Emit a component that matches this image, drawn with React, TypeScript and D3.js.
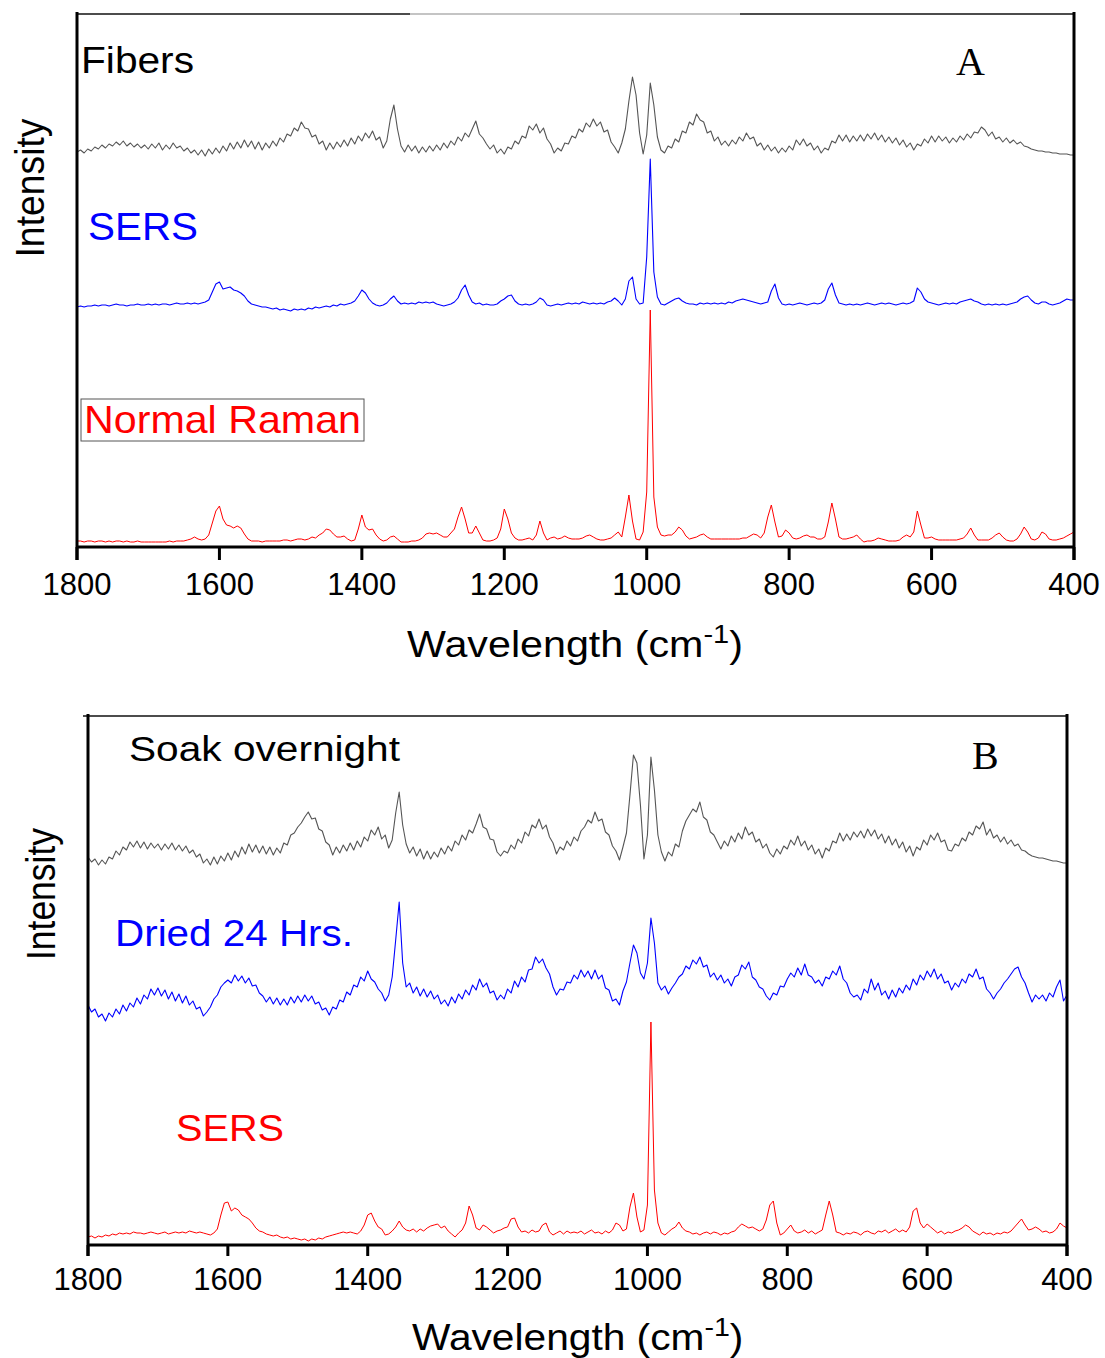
import React from "react";
import * as d3 from "d3";

// ---------------- DATA ----------------
// Raman shift grid: 1800 -> 400 cm-1 in 5 cm-1 steps (281 samples per spectrum)
const SHIFT_START = 1800;
const SHIFT_STEP = 5;
const xTickValues = [1800, 1600, 1400, 1200, 1000, 800, 600, 400];

// Panel A (offset intensities, arbitrary units)
const fibersA = [
  395,397,394,398,396,400,398,402,399,403,401,405,402,406,401,404,400,403,399,402,
  398,403,399,404,397,402,398,404,399,401,396,399,394,397,392,397,391,398,393,399,
  394,401,396,404,398,405,399,407,400,406,398,405,397,404,399,406,401,409,405,413,
  411,419,416,425,419,418,410,412,403,406,397,404,398,405,400,407,401,409,403,411,
  406,414,409,416,407,410,399,406,428,442,418,401,395,402,396,401,394,400,395,401,
  396,402,397,404,399,406,402,410,406,414,410,418,426,413,409,403,398,402,394,398,
  393,400,398,406,403,411,409,421,417,423,414,419,408,403,394,399,396,404,403,411,
  409,418,415,424,420,428,421,425,415,417,405,400,394,404,418,446,470,452,414,393,
  412,464,442,410,397,394,401,399,408,405,416,414,425,422,433,427,425,414,416,406,
  410,402,406,401,407,403,410,406,414,408,410,401,404,397,402,396,400,394,399,395,
  401,397,407,402,408,401,404,397,401,394,399,397,406,404,412,406,412,405,411,406,
  412,406,413,408,414,407,412,405,410,404,409,402,407,400,404,397,403,401,408,404,
  411,405,411,406,410,404,409,405,411,407,413,409,415,414,420,417,411,415,408,410,
  405,409,404,407,403,405,401,400,398,397,396,396,395,395,394,394,393,393,393,392,
  392,
];
const sersA = [
  240,241,240,241,241,242,241,242,242,241,242,243,242,242,241,242,242,243,242,242,
  243,242,243,242,243,243,242,243,244,243,243,244,243,244,243,244,245,247,255,263,
  265,258,259,260,257,256,254,251,246,243,242,241,240,240,239,238,239,237,238,237,
  236,238,237,238,237,239,238,240,239,240,241,240,242,241,243,242,243,244,246,251,
  257,254,248,244,242,241,242,244,248,251,246,243,244,243,244,243,245,244,245,244,
  245,243,242,241,242,243,245,249,257,262,252,245,243,244,242,243,242,242,243,246,
  248,251,252,246,243,242,243,242,243,245,249,247,242,241,242,243,242,243,244,243,
  244,243,245,244,243,244,243,244,243,245,246,249,246,242,248,266,270,248,243,244,
  290,388,275,250,243,242,244,246,248,249,246,244,243,243,242,244,243,244,243,244,
  243,244,243,245,244,246,247,248,247,246,245,244,243,244,245,256,263,249,243,242,
  243,242,243,244,243,242,243,244,243,244,247,258,264,252,244,243,242,243,242,243,
  242,243,244,243,242,243,244,243,244,243,242,243,244,243,244,246,259,255,248,245,
  244,243,242,243,244,243,244,243,245,246,247,248,246,245,243,242,243,242,243,242,
  243,242,243,244,245,248,250,251,247,244,243,245,245,243,242,243,244,246,248,247,
  247,
];
const normalRamanA = [
  6,6,5,6,6,5,6,6,5,6,5,6,6,5,6,5,5,6,5,5,
  5,5,5,5,5,5,6,5,6,6,6,7,8,10,8,7,8,12,24,36,
  41,28,22,21,19,21,19,13,8,6,6,6,5,6,6,6,6,6,7,7,
  6,7,8,8,7,8,10,9,12,14,18,17,13,10,10,11,8,6,7,18,
  32,20,17,18,12,8,6,7,10,11,8,5,5,5,6,6,7,9,13,14,
  13,14,12,10,10,14,18,30,40,28,14,14,21,14,7,6,6,7,9,18,
  38,28,14,9,7,7,8,9,7,12,26,14,7,9,10,8,9,11,9,8,
  8,8,9,11,12,10,8,7,7,8,9,12,15,10,30,52,26,8,7,15,
  55,237,50,20,12,11,12,12,15,20,17,11,8,9,10,12,13,10,8,8,
  8,8,8,8,8,8,8,9,9,11,13,12,9,14,30,42,25,10,11,17,
  14,9,8,9,11,12,10,10,8,8,10,25,44,28,10,8,8,9,10,12,
  8,5,6,6,7,9,8,7,6,6,6,7,10,12,10,15,36,22,9,9,
  10,8,7,7,7,7,7,7,8,9,13,19,12,7,7,7,7,9,12,14,
  10,7,6,6,8,13,20,15,8,7,9,15,13,8,7,7,8,9,11,13,
  15,
];

// Panel B
const soakB = [
  388,383,386,380,385,381,388,386,394,390,398,395,403,398,404,397,403,396,402,397,
  401,395,401,396,402,395,400,394,399,392,395,388,391,382,386,380,388,381,389,384,
  392,385,394,388,398,391,401,393,400,392,399,391,398,390,397,392,402,400,410,412,
  418,422,428,433,426,427,416,414,403,400,390,398,392,400,394,402,395,404,398,408,
  404,415,410,418,406,410,397,405,432,453,420,401,392,398,389,396,386,394,386,393,
  388,397,391,399,394,404,400,410,405,415,412,421,431,418,416,406,405,393,389,394,
  392,400,396,406,402,413,409,420,417,426,416,420,408,402,391,398,395,404,399,408,
  404,414,418,425,422,433,424,426,413,410,399,394,385,398,412,450,490,482,440,386,
  410,488,455,410,393,384,393,389,401,398,414,424,430,436,433,443,428,425,413,410,
  403,396,404,399,409,403,412,406,418,410,413,403,406,397,401,392,388,396,391,399,
  396,405,400,409,399,404,395,400,391,396,387,397,394,404,402,412,404,411,405,413,
  408,414,407,416,409,415,406,411,402,409,400,406,397,403,393,399,389,398,395,405,
  400,410,405,412,403,405,395,394,401,399,407,404,413,410,419,416,423,410,416,407,
  410,403,408,401,405,399,401,395,394,391,389,388,387,387,386,385,384,384,383,382,
  382,
];
const dried24B = [
  240,233,236,228,231,224,232,228,236,231,240,234,242,238,247,241,250,246,256,250,
  257,249,255,246,253,244,251,242,249,240,244,236,238,229,233,238,246,250,258,262,
  265,262,270,264,269,262,267,259,260,252,249,243,248,241,247,240,246,240,248,242,
  249,243,250,244,249,241,243,235,237,230,238,236,245,243,253,250,260,258,268,264,
  274,266,263,256,252,244,250,268,305,343,282,258,262,252,258,249,256,248,254,246,
  250,241,245,239,248,242,251,246,255,250,260,255,266,258,262,252,254,245,250,246,
  256,252,264,258,268,263,275,276,288,282,286,277,271,258,250,256,255,263,262,270,
  266,275,268,274,266,275,266,270,257,255,244,246,240,254,263,282,300,292,272,266,
  282,327,302,262,255,259,251,257,262,268,271,279,276,285,281,288,278,280,268,272,
  265,270,262,266,259,268,270,280,276,283,268,265,258,256,249,245,252,250,259,258,
  266,272,268,277,270,281,270,268,262,265,259,268,266,274,270,279,266,262,252,248,
  250,245,256,252,266,255,262,250,254,246,255,248,257,252,260,255,266,260,270,265,
  274,268,276,266,271,262,264,255,262,258,266,262,271,268,276,266,268,256,252,246,
  252,256,262,266,271,276,278,268,262,252,243,250,246,250,244,252,248,258,265,244,
  250,
];
const sersB = [
  8,9,7,9,8,10,9,11,10,12,11,12,11,13,12,12,11,12,13,12,
  11,12,13,11,12,13,12,13,12,14,13,12,13,12,11,10,12,16,30,42,
  43,34,37,35,30,28,26,22,17,14,13,11,10,9,10,8,7,8,6,7,
  6,5,6,4,6,5,7,6,8,9,10,11,12,13,12,13,12,11,14,20,
  30,32,24,18,16,10,11,14,18,24,18,15,14,16,13,16,14,17,19,20,
  21,17,19,14,11,8,12,15,22,39,30,17,15,20,18,15,12,14,15,17,
  18,26,27,18,13,14,12,15,13,14,20,22,13,10,12,14,11,14,12,13,
  12,14,11,13,15,12,13,11,14,12,15,22,20,14,16,38,52,28,13,15,
  40,223,55,22,12,10,13,16,18,23,17,14,13,11,12,10,12,13,11,13,
  12,10,12,11,13,14,18,21,19,17,18,16,14,16,25,40,44,22,10,12,
  16,20,14,12,13,15,12,14,11,13,15,30,44,30,13,12,10,12,11,13,
  12,10,13,14,12,11,14,13,15,12,14,16,13,15,13,18,34,37,22,17,
  21,18,15,12,14,11,13,12,14,15,17,20,18,14,12,10,13,11,12,10,
  12,11,13,12,14,18,22,26,20,15,16,18,16,13,14,12,13,16,22,19,
  17,
];

// ---------------- STYLE / LAYOUT ----------------
const SANS = "'Liberation Sans', Arial, Helvetica, sans-serif";
const SERIF = "'Liberation Serif', 'Times New Roman', serif";
const GRAY = "#555555";
const BLUE = "#0000ff";
const RED = "#ff0000";

type Label = {
  text: string; x: number; y: number; size: number; color: string;
  len?: number; serif?: boolean; box?: [number, number, number, number];
};
type PanelCfg = {
  x0: number; x1: number; yTop: number; yAxis: number; yMax: number;
  tickLen: number; tickLabelY: number; titleX: number; titleY: number; titleScale: number;
  intensityX: number; intensityY: number; intensityLen: number; topLeft: number;
  series: { values: number[]; color: string; width: number }[];
  labels: Label[];
  greySeg?: [number, number];
};

const panels: PanelCfg[] = [
  {
    x0: 77, x1: 1074, yTop: 14, yAxis: 547, yMax: 533,
    tickLen: 13, tickLabelY: 595, titleX: 407, titleY: 657, titleScale: 1.115,
    intensityX: 44, intensityY: 188, intensityLen: 139, topLeft: 77,
    series: [
      { values: fibersA, color: GRAY, width: 1.1 },
      { values: sersA, color: BLUE, width: 1.1 },
      { values: normalRamanA, color: RED, width: 1.0 },
    ],
    labels: [
      { text: "Fibers", x: 81, y: 73, size: 36, color: "#000", len: 113 },
      { text: "A", x: 956, y: 75, size: 40, color: "#000", serif: true },
      { text: "SERS", x: 88, y: 240, size: 38, color: BLUE, len: 110 },
      { text: "Normal Raman", x: 84, y: 433, size: 39, color: RED, len: 277, box: [81, 399, 283, 42] },
    ],
    greySeg: [410, 740],
  },
  {
    x0: 88, x1: 1067, yTop: 716, yAxis: 1245, yMax: 529,
    tickLen: 11, tickLabelY: 1290, titleX: 412, titleY: 1350, titleScale: 1.1,
    intensityX: 55, intensityY: 894, intensityLen: 132, topLeft: 83,
    series: [
      { values: soakB, color: GRAY, width: 1.1 },
      { values: dried24B, color: BLUE, width: 1.1 },
      { values: sersB, color: RED, width: 1.0 },
    ],
    labels: [
      { text: "Soak overnight", x: 129, y: 761, size: 35, color: "#000", len: 271 },
      { text: "B", x: 972, y: 769, size: 40, color: "#000", serif: true },
      { text: "Dried 24 Hrs.", x: 115, y: 946, size: 36, color: BLUE, len: 238 },
      { text: "SERS", x: 176, y: 1141, size: 36, color: RED, len: 108 },
    ],
  },
];

function PanelView({ p }: { p: PanelCfg }) {
  const x = d3.scaleLinear().domain([SHIFT_START, 400]).range([p.x0, p.x1]);
  const y = d3.scaleLinear().domain([0, p.yMax]).range([p.yAxis, p.yAxis - p.yMax]);
  const line = d3
    .line<number>()
    .x((_, i) => x(SHIFT_START - SHIFT_STEP * i))
    .y((v) => y(v));

  return (
    <g>
      {/* spectra */}
      {p.series.map((s, k) => (
        <path key={k} d={line(s.values) || ""} fill="none" stroke={s.color}
          strokeWidth={s.width} strokeLinejoin="round" />
      ))}
      {/* frame */}
      <line x1={p.topLeft} x2={p.x1} y1={p.yTop} y2={p.yTop} stroke="#111" strokeWidth={1.6} />
      {p.greySeg && (
        <line x1={p.greySeg[0]} x2={p.greySeg[1]} y1={p.yTop} y2={p.yTop} stroke="#c4c4c4" strokeWidth={2} />
      )}
      <line x1={p.x0} x2={p.x0} y1={p.yTop - 2} y2={p.yAxis + p.tickLen} stroke="#000" strokeWidth={3} />
      <line x1={p.x1} x2={p.x1} y1={p.yTop - 2} y2={p.yAxis + p.tickLen} stroke="#000" strokeWidth={3} />
      <line x1={p.x0} x2={p.x1} y1={p.yAxis} y2={p.yAxis} stroke="#000" strokeWidth={3} />
      {xTickValues.map((t) => (
        <g key={t}>
          <line x1={x(t)} x2={x(t)} y1={p.yAxis} y2={p.yAxis + p.tickLen} stroke="#000" strokeWidth={3} />
          <text x={x(t)} y={p.tickLabelY} textAnchor="middle" fontFamily={SANS} fontSize={31} fill="#000">
            {t}
          </text>
        </g>
      ))}
      {/* axis titles */}
      <text transform={`translate(${p.titleX},${p.titleY}) scale(${p.titleScale},1)`}
        fontFamily={SANS} fontSize={37} fill="#000">
        Wavelength (cm
        <tspan fontSize={26} dy={-14}>-1</tspan>
        <tspan fontSize={37} dy={14}>)</tspan>
      </text>
      <text transform={`translate(${p.intensityX},${p.intensityY}) rotate(-90)`}
        textAnchor="middle" fontFamily={SANS} fontSize={40} fill="#000"
        textLength={p.intensityLen} lengthAdjust="spacingAndGlyphs">
        Intensity
      </text>
      {/* labels */}
      {p.labels.map((l, k) => (
        <g key={k}>
          {l.box && (
            <rect x={l.box[0]} y={l.box[1]} width={l.box[2]} height={l.box[3]}
              fill="none" stroke="#555" strokeWidth={1} />
          )}
          <text x={l.x} y={l.y} fontFamily={l.serif ? SERIF : SANS} fontSize={l.size} fill={l.color}
            {...(l.len ? { textLength: l.len, lengthAdjust: "spacingAndGlyphs" } : {})}>
            {l.text}
          </text>
        </g>
      ))}
    </g>
  );
}

export default function App() {
  return (
    <svg width={1105} height={1358} viewBox="0 0 1105 1358"
      style={{ position: "absolute", left: 0, top: 0, background: "#fff" }}>
      <rect x={0} y={0} width={1105} height={1358} fill="#fff" />
      {panels.map((p, i) => (
        <PanelView key={i} p={p} />
      ))}
    </svg>
  );
}
